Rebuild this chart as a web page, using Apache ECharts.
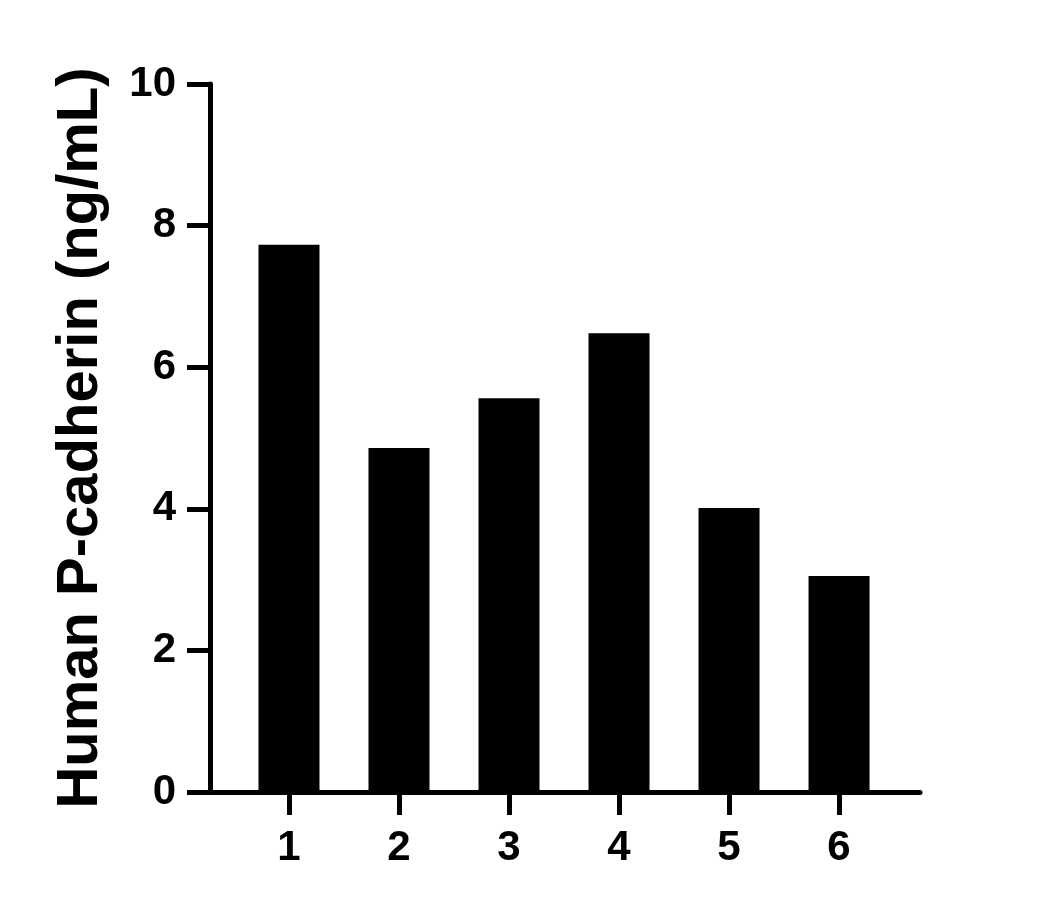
<!DOCTYPE html>
<html lang="en">
<head>
    <meta charset="UTF-8">
    <title>Human P-cadherin</title>
    <script src="https://cdn.jsdelivr.net/npm/echarts@6/dist/echarts.min.js"></script>
    <style>
        html, body { margin: 0; padding: 0; background: #fff; }
        #container { width: 1052px; height: 909px; }
    </style>
</head>
<body>
<div id="container"></div>
<script type="text/javascript">
    // sample numbers on the x axis and measured values
    var samples = [1, 2, 3, 4, 5, 6];
    var values = [7.73, 4.86, 5.56, 6.48, 4.01, 3.05];
    var yTicks = [0, 2, 4, 6, 8, 10];
    var yTitle = 'Human P-cadherin (ng/mL)';

    var font = 'Liberation Sans, Arial, sans-serif';
    var myChart = echarts.init(document.getElementById('container'));

    var points = samples.map(function (s, i) { return [s, values[i]]; });

    var option = {
        animation: false,
        backgroundColor: '#fff',
        grid: { left: 210, right: 132, top: 84, bottom: 117, containLabel: false },
        xAxis: {
            type: 'value',
            min: 0.282,
            max: 6.736,
            axisLine: { show: true, lineStyle: { color: '#000', width: 5 } },
            axisTick: { show: true, length: 23, lineStyle: { color: '#000', width: 5 }, customValues: samples },
            axisLabel: {
                customValues: samples,
                margin: 35,
                color: '#000', fontSize: 42, fontWeight: 'bold', fontFamily: font
            },
            splitLine: { show: false }
        },
        yAxis: {
            type: 'value',
            min: 0,
            max: 10,
            interval: 2,
            name: yTitle,
            nameLocation: 'middle',
            nameRotate: 90,
            nameGap: 100,
            nameTextStyle: { color: '#000', fontSize: 58, fontWeight: 'bold', fontFamily: font },
            axisLine: { show: true, lineStyle: { color: '#000', width: 5 } },
            axisTick: { show: true, length: 23, lineStyle: { color: '#000', width: 5 }, customValues: yTicks },
            axisLabel: {
                customValues: yTicks,
                margin: 34,
                color: '#000', fontSize: 42, fontWeight: 'bold', fontFamily: font
            },
            splitLine: { show: false }
        },
        series: [{
            type: 'bar',
            data: points,
            barWidth: 61,
            itemStyle: { color: '#000' }
        }]
    };
    myChart.setOption(option);
</script>
</body>
</html>
